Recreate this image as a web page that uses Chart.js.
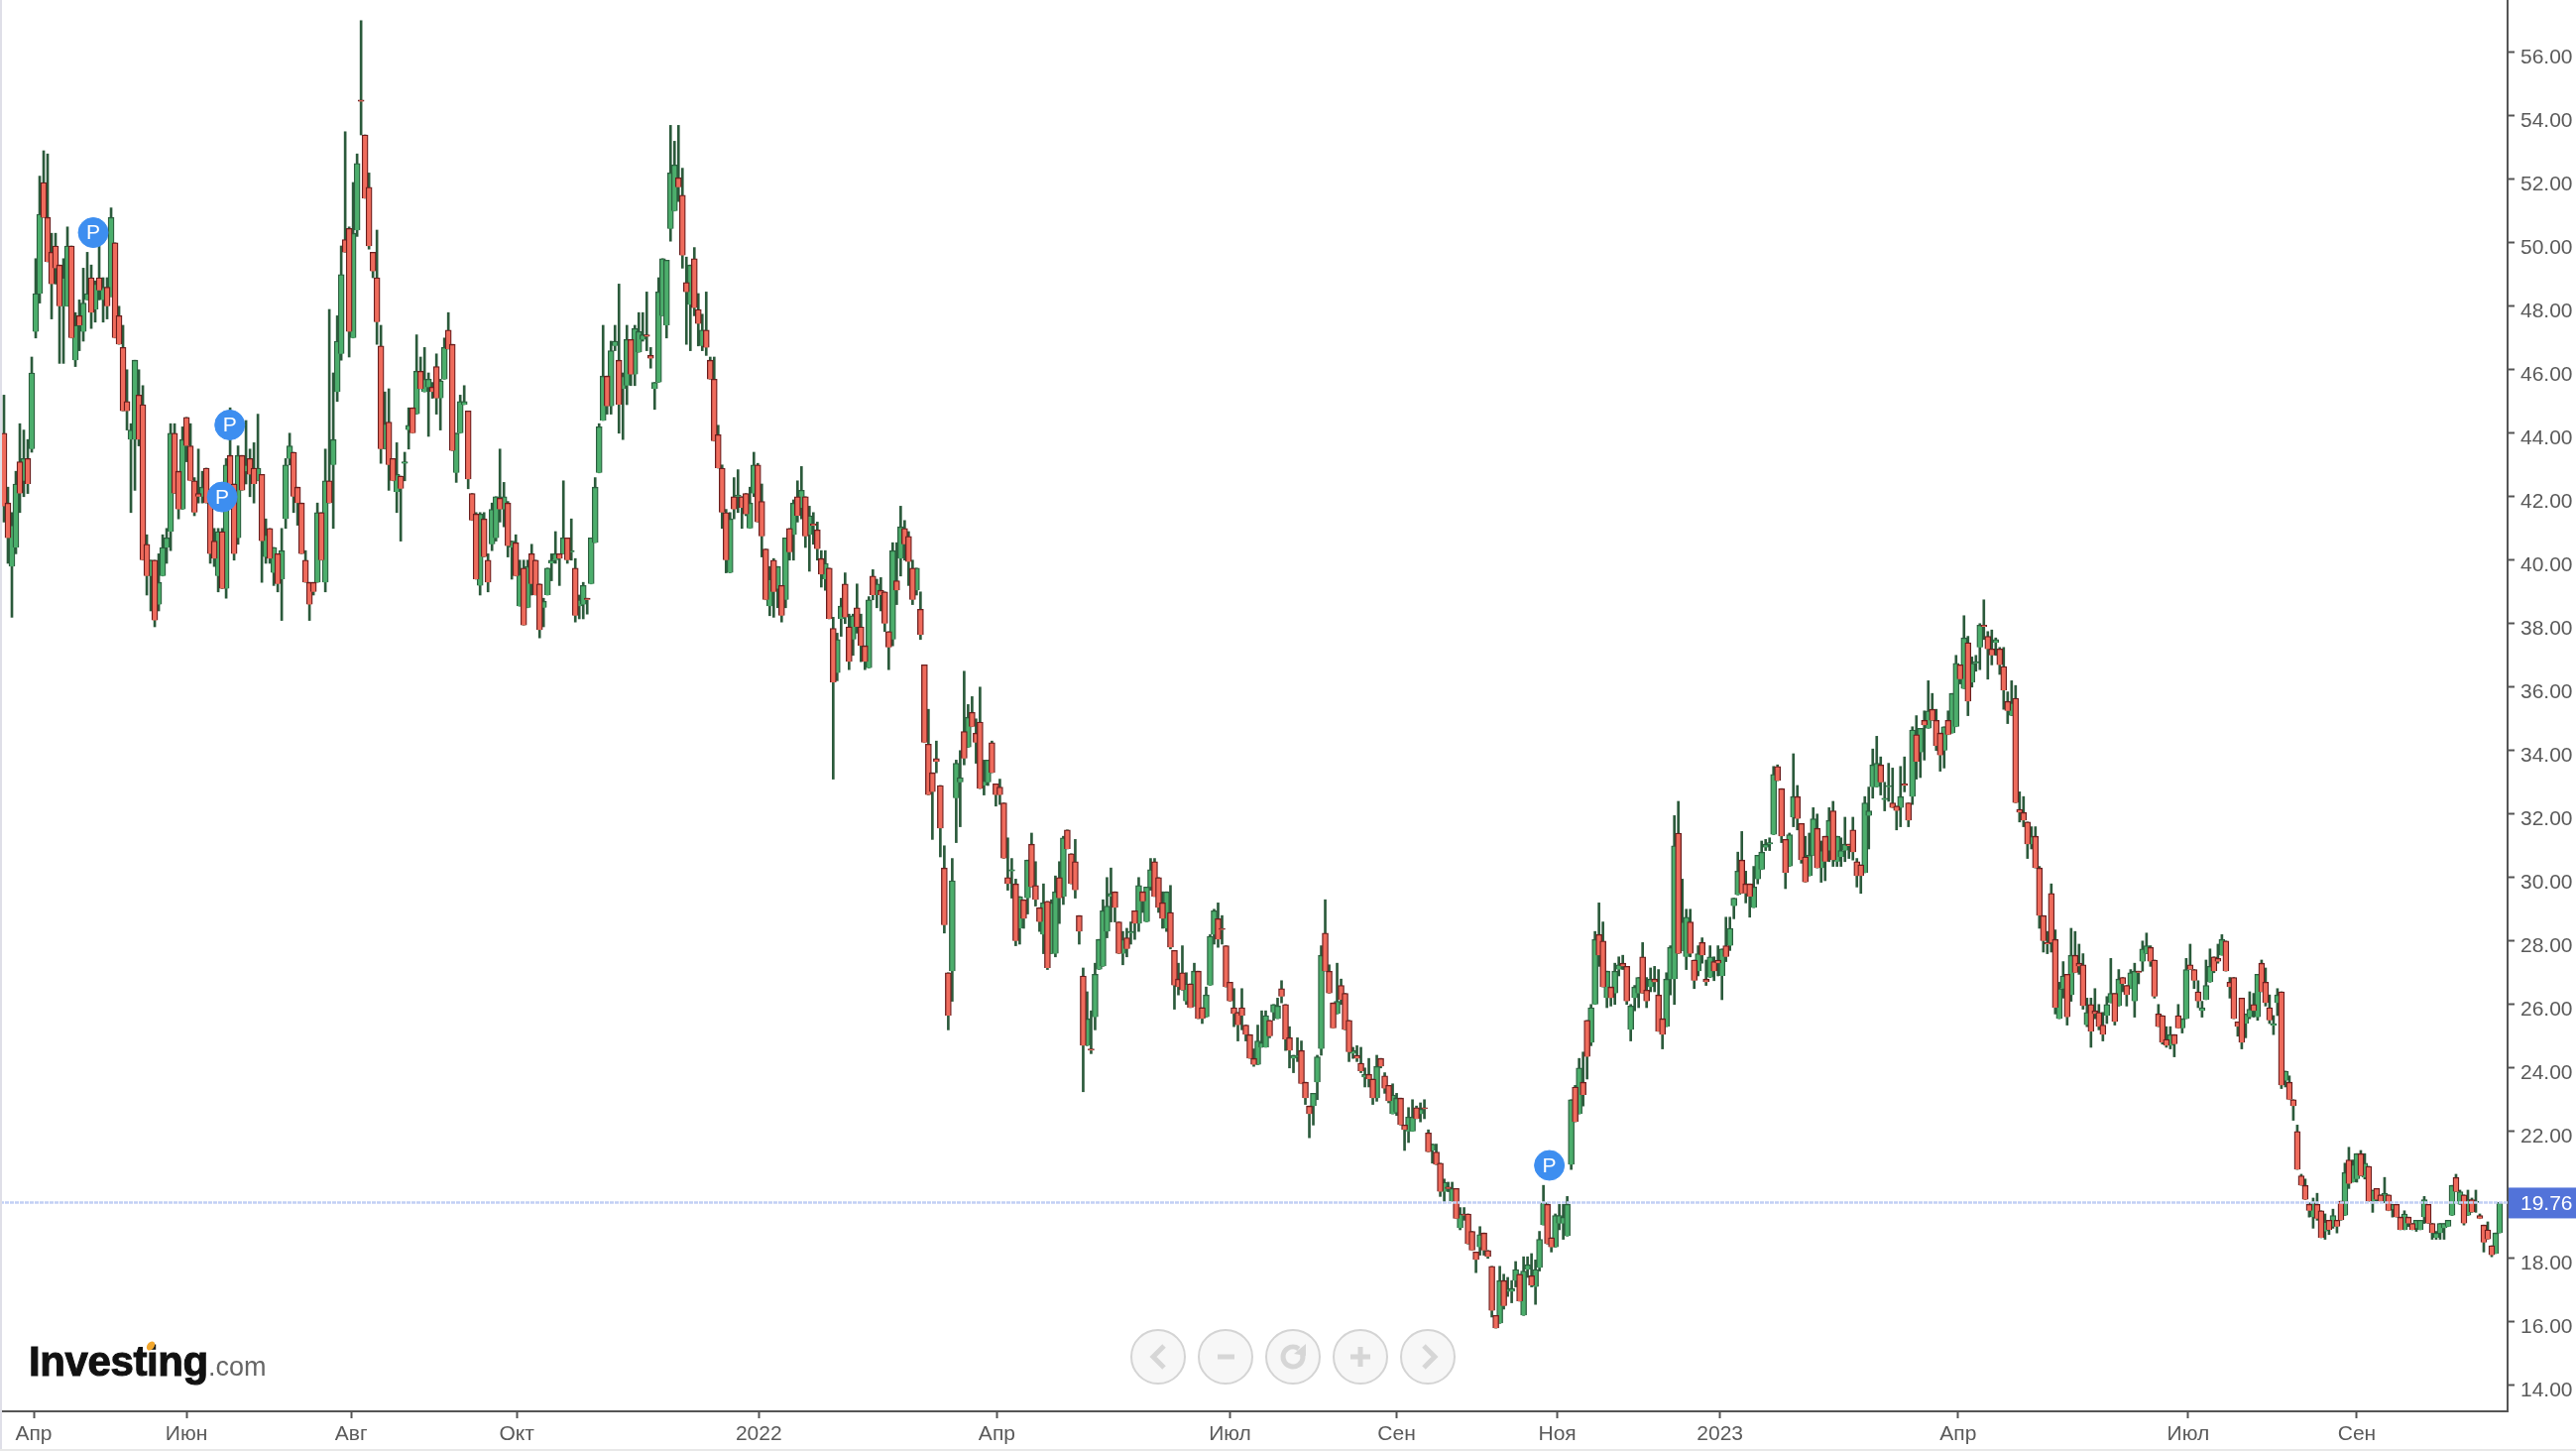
<!DOCTYPE html>
<html>
<head>
<meta charset="utf-8">
<title>Investing chart</title>
<script src="https://cdn.jsdelivr.net/npm/chart.js@4"></script>
<style>
    html, body { margin: 0; padding: 0; background: #fff; }
    #wrap { position: relative; width: 2598px; height: 1463px; }
</style>
</head>
<body>
<div id="wrap"><canvas id="chart"></canvas></div>
<script>
// =========================
// DATA
// =========================

const opens = [
44.0,41.8,39.8,40.4,43.1,42.5,43.2,43.5,47.2,48.4,
51.9,50.8,49.7,49.9,49.3,48.0,48.0,49.9,46.3,47.7,
47.2,48.2,48.9,47.9,48.9,48.2,48.6,48.3,50.0,47.7,
46.7,45.0,43.8,43.8,45.2,44.9,40.5,39.5,40.0,38.6,
39.5,40.4,40.9,44.0,42.8,41.6,44.5,43.6,42.5,42.1,
42.0,42.9,41.8,40.6,39.5,40.9,39.1,43.3,42.4,40.7,
43.3,42.8,43.2,42.9,42.5,42.7,40.1,41.0,39.6,40.2,
39.4,41.3,43.2,43.4,42.3,41.8,40.0,39.3,39.3,39.3,
41.5,39.3,42.5,43.0,45.3,46.5,50.1,50.45,47.0,50.4,
54.5,53.4,51.75,49.7,48.9,46.75,43.5,44.35,43.2,42.15,
42.65,43.05,44.1,44.8,44.6,45.95,45.3,45.45,45.45,46.1,
45.1,45.7,47.25,46.8,42.75,44.0,44.9,44.7,42.1,41.45,
39.2,41.3,40.0,40.5,40.7,41.95,41.6,41.8,40.4,40.55,
38.55,39.75,38.5,40.2,40.0,39.25,38.5,38.9,39.9,40.0,
40.2,40.2,40.7,40.25,39.75,38.55,38.6,38.8,39.25,40.55,
42.75,44.4,45.8,44.85,46.75,46.3,45.4,45.5,46.95,45.85,
46.55,46.95,47.1,46.45,45.4,45.6,47.7,47.4,50.45,51.0,
52.05,51.5,48.75,48.05,49.5,47.9,46.75,47.25,46.3,45.7,
43.95,42.9,41.5,39.6,42.0,42.0,42.0,42.1,41.0,42.1,
43.0,41.85,40.35,38.55,40.0,39.1,39.2,38.75,41.0,40.8,
42.0,41.65,42.0,40.8,41.15,40.95,40.05,39.4,39.75,37.85,
36.45,38.15,39.25,37.9,37.5,38.5,37.9,37.3,36.6,39.5,
38.9,39.05,39.0,37.75,37.5,39.35,40.05,41.0,40.75,39.75,
39.05,38.45,36.7,34.2,33.3,33.75,32.9,30.3,27.0,27.05,
32.5,33.0,34.6,34.1,35.2,34.55,34.9,32.9,33.0,34.25,
32.95,32.85,32.35,30.0,30.2,29.8,28.4,29.3,29.35,31.05,
29.75,29.05,28.2,29.25,27.6,27.6,30.0,29.4,31.5,30.75,
30.5,28.8,26.9,24.7,24.6,25.6,27.1,27.2,28.3,29.4,
29.55,28.6,27.6,28.1,28.25,28.95,28.55,29.55,28.6,29.7,
30.5,30.0,29.2,28.4,28.9,27.7,26.8,27.0,26.1,26.65,
25.95,27.05,25.9,25.6,26.6,28.2,28.7,28.4,27.85,26.7,
25.9,25.75,25.9,25.35,25.05,24.3,24.1,24.65,24.65,25.5,
25.75,25.55,26.5,26.0,24.95,24.3,24.35,24.55,23.55,22.8,
22.8,23.55,24.6,28.25,27.05,26.05,25.7,26.6,26.35,25.5,
24.45,24.4,24.15,23.7,23.8,23.65,23.05,24.3,23.75,23.45,
22.55,22.6,23.05,22.2,22.0,22.0,22.75,22.55,22.75,21.95,
21.4,21.35,21.0,20.1,20.25,19.8,20.2,18.95,19.4,19.4,
18.85,18.2,18.35,18.8,18.25,17.75,16.2,15.95,17.3,16.95,
16.95,17.3,17.5,16.2,17.65,17.45,17.1,17.7,19.05,19.7,
18.65,18.35,19.1,19.1,18.7,20.95,23.4,22.55,23.55,25.5,
24.8,26.0,28.2,28.0,26.2,26.55,26.35,27.1,27.3,27.2,
25.2,26.2,26.35,27.5,26.45,26.55,26.8,26.3,25.55,25.3,
26.8,26.8,31.4,27.7,27.5,28.6,27.4,27.05,27.95,26.8,
26.85,27.35,27.4,26.9,27.85,27.85,29.1,29.45,30.55,29.8,
29.8,29.05,29.95,30.25,30.95,31.05,31.35,33.5,32.8,31.2,
30.35,31.9,32.55,31.7,30.65,30.05,30.7,31.55,30.3,31.3,
30.85,32.1,30.5,30.65,30.85,31.05,31.5,30.5,30.4,30.15,
31.95,32.85,32.85,33.55,32.45,32.85,32.35,32.25,32.2,32.95,
32.35,32.55,34.5,33.95,34.95,34.7,35.3,34.95,34.55,34.0,
34.95,34.55,34.75,36.7,35.95,37.4,36.15,36.75,37.25,37.95,
37.6,37.2,37.4,37.2,36.65,35.55,35.1,35.65,32.15,32.05,
31.75,31.05,31.3,30.3,28.8,27.95,29.5,28.05,25.55,26.5,
26.95,26.3,27.55,27.3,27.25,25.35,26.0,25.8,25.75,25.35,
25.65,26.05,26.35,25.95,26.85,26.6,26.5,26.1,27.05,27.35,
27.6,27.8,27.4,25.7,25.65,24.9,24.7,25.05,25.65,25.25,
25.55,27.25,27.1,26.4,25.8,26.15,26.7,27.5,27.45,27.55,
28.0,26.7,26.85,25.45,26.2,25.4,25.6,26.0,25.6,27.3,
26.7,25.9,25.35,26.05,26.4,23.6,23.55,23.0,22.0,20.6,
20.3,19.7,19.3,19.7,19.5,18.85,19.2,19.0,19.2,19.8,
19.35,21.1,20.4,20.5,21.3,20.55,20.9,19.8,20.2,20.0,
19.8,20.0,19.55,19.7,19.3,18.9,19.3,19.1,18.95,18.9,
19.3,19.7,19.1,18.65,18.8,18.95,19.0,19.35,20.55,19.7,
20.0,19.35,19.85,19.75,19.35,19.05,18.9,18.4,18.15,18.8
];

const closes = [
41.7,40.7,41.1,42.4,42.1,43.2,42.4,45.9,48.4,50.9,
50.8,49.4,48.7,49.2,48.0,48.9,49.9,47.0,47.4,47.4,
48.1,48.4,47.8,48.7,48.5,48.6,48.0,50.8,47.0,46.8,
44.7,44.7,44.1,46.3,43.8,40.0,39.5,40.0,38.1,39.3,
40.4,40.7,44.0,42.1,41.6,43.8,43.6,42.5,41.5,42.0,
42.3,41.8,40.2,40.05,40.9,39.1,43.0,42.3,40.2,43.3,
42.2,43.0,42.7,42.4,42.9,40.6,40.8,40.05,40.4,39.25,
40.3,43.0,43.6,42.0,41.8,40.2,39.3,38.6,39.0,41.5,
40.0,42.5,41.8,43.8,46.9,49.0,49.7,47.2,50.3,52.5,
54.45,51.4,49.9,49.1,47.5,43.5,44.3,43.0,42.5,42.7,
42.25,43.1,44.25,44.0,45.95,45.4,45.7,45.7,45.3,45.1,
45.65,46.7,46.65,43.45,44.0,45.0,45.0,42.55,41.25,39.4,
41.45,40.1,39.3,41.6,42.0,41.6,42.0,40.45,40.6,39.5,
39.55,37.95,39.8,39.25,38.9,37.8,38.7,39.75,40.0,40.2,
40.05,40.7,40.0,40.3,38.25,38.75,39.2,38.75,40.7,42.3,
44.2,45.8,44.85,46.6,46.9,44.9,45.8,46.95,45.85,47.3,
47.2,47.1,47.05,46.35,45.6,48.45,49.5,49.45,52.2,52.45,
51.75,49.6,48.45,49.3,47.95,47.45,47.25,46.7,45.7,43.75,
42.9,41.5,40.0,41.3,41.6,42.05,41.65,41.45,41.8,43.0,
41.2,40.75,38.75,39.4,39.0,39.8,38.25,40.7,40.25,41.8,
41.4,42.2,40.75,41.4,41.1,40.35,39.55,39.9,38.15,36.15,
37.5,38.55,38.2,36.8,38.25,37.9,37.3,36.8,38.75,38.9,
39.25,38.9,38.0,37.25,40.3,39.05,41.05,40.5,39.95,38.75,
39.75,37.65,34.25,32.6,32.7,33.65,31.55,28.5,25.65,29.9,
33.6,33.15,33.75,35.05,34.75,34.25,32.8,33.05,33.7,33.3,
32.6,32.6,30.6,29.8,30.25,28.0,29.4,28.7,30.55,29.7,
29.3,28.6,29.2,27.15,29.2,29.55,29.35,31.25,30.9,29.8,
29.6,28.3,24.7,25.55,24.55,26.95,28.05,28.95,29.1,29.5,
29.05,27.6,28.05,27.75,28.3,28.55,29.75,29.25,29.7,30.25,
29.4,29.05,28.7,29.55,27.8,26.6,26.55,26.45,26.65,25.9,
27.05,25.55,25.55,26.3,28.15,28.95,28.05,28.35,26.55,26.1,
25.7,25.35,25.65,25.05,24.3,24.1,24.85,24.8,25.65,25.0,
26.0,25.95,26.25,24.9,24.55,24.4,24.4,23.5,23.05,22.55,
23.2,24.35,27.55,27.05,26.35,25.25,26.1,26.15,25.2,24.5,
24.55,24.3,23.9,23.8,23.65,23.05,24.05,24.05,23.35,22.95,
23.15,23.05,22.2,22.05,22.45,22.45,22.4,22.7,22.7,21.35,
21.6,20.95,20.1,20.4,20.2,20.2,19.25,19.4,19.35,18.45,
18.25,17.95,18.75,18.25,18.05,16.35,15.8,17.3,16.5,17.05,
17.05,17.65,16.65,17.6,17.8,17.15,17.65,18.6,19.75,18.45,
18.35,19.35,19.35,19.3,19.7,23.0,22.3,24.0,23.15,24.35,
25.9,28.05,27.55,26.55,27.05,26.2,27.05,27.25,27.2,26.1,
25.95,26.55,26.85,26.35,26.1,26.8,26.7,25.15,25.05,26.8,
27.8,31.0,27.6,28.6,28.75,27.6,26.75,27.6,27.55,26.7,
27.5,27.05,27.3,27.75,27.5,28.4,29.35,30.2,29.5,29.5,
29.4,29.7,30.7,30.8,31.05,31.1,33.25,33.05,31.3,30.15,
31.35,32.55,31.85,30.55,29.85,30.7,31.85,30.3,30.85,30.5,
31.8,30.55,31.3,30.85,31.05,31.0,30.8,30.05,30.05,32.35,
32.1,33.55,33.6,33.0,32.5,32.9,32.2,32.1,32.55,32.9,
31.8,34.65,33.65,34.7,34.8,35.25,34.95,34.15,33.85,34.75,
34.5,35.8,36.75,36.25,37.55,35.55,36.75,36.8,37.95,37.9,
37.2,37.0,37.5,36.7,35.9,35.25,35.5,32.35,32.05,31.8,
31.05,31.3,30.3,28.8,28.0,27.9,27.95,25.9,26.5,26.9,
25.6,27.55,27.0,27.2,25.95,25.75,25.15,25.7,25.3,25.05,
26.0,26.35,25.45,26.8,26.65,26.3,27.0,27.05,27.0,27.75,
27.85,27.35,26.25,25.3,24.8,24.7,25.05,24.75,25.25,25.55,
27.1,27.1,26.75,26.1,25.9,26.6,27.2,27.05,27.35,28.05,
27.05,26.55,25.55,25.3,24.8,25.7,25.85,25.8,26.95,26.4,
26.05,25.5,25.4,26.3,23.45,23.9,23.0,22.8,20.8,20.3,
19.85,19.5,19.75,19.25,18.65,19.15,18.9,19.35,19.0,19.2,
20.7,20.35,20.95,21.3,20.6,21.0,19.8,20.15,19.85,19.8,
20.05,19.5,19.7,19.3,18.9,19.4,19.1,18.9,19.2,19.2,
19.85,19.1,18.8,18.8,19.1,19.1,19.2,20.3,20.1,20.1,
19.1,19.85,19.45,19.8,19.25,18.5,18.6,18.1,18.8,19.76
];

const highs = [
45.2,42.3,41.5,42.8,44.3,44.1,43.8,46.4,49.5,52.1,
52.9,52.8,50.3,50.3,49.3,49.5,50.5,49.9,47.8,48.2,
49.2,49.7,49.3,48.8,49.9,48.9,48.9,51.1,50.0,48.0,
47.4,46.0,44.3,46.3,46.0,45.5,40.8,40.0,40.0,40.2,
40.8,41.0,44.3,44.3,42.8,44.2,44.5,44.3,42.6,43.5,
42.8,42.9,41.8,41.0,41.0,41.0,43.2,44.8,42.4,43.6,
43.3,44.4,43.5,43.7,44.6,42.7,41.3,41.0,40.4,40.2,
41.0,43.2,44.0,43.4,42.3,41.8,40.3,39.3,39.3,41.8,
41.5,43.5,47.9,45.9,47.7,49.9,53.5,50.5,51.9,52.8,
57.0,53.4,52.2,49.7,50.4,47.4,45.3,45.4,43.2,43.7,
42.65,43.4,44.8,44.8,47.1,46.4,46.7,45.9,45.6,46.5,
45.7,47.0,47.8,46.8,44.0,45.2,45.5,44.7,42.1,41.5,
41.5,41.5,40.2,41.8,42.0,43.5,42.45,41.85,40.6,40.8,
40.0,40.0,40.0,40.5,40.0,39.25,38.8,39.75,40.2,40.9,
40.2,42.5,40.7,41.3,40.05,38.9,39.3,38.8,40.7,42.6,
44.3,47.4,45.8,46.9,47.4,48.7,45.9,47.4,46.95,47.4,
47.8,47.8,48.45,46.7,45.6,48.9,49.5,49.45,53.7,53.2,
53.7,52.35,49.55,49.3,49.85,48.4,47.75,48.45,46.4,46.4,
44.25,43.0,41.6,41.5,42.6,42.85,42.0,42.1,42.3,43.4,
43.05,42.4,40.35,39.8,40.05,39.8,39.2,40.7,41.0,41.9,
42.5,42.95,42.0,41.7,41.5,41.2,40.3,40.3,39.75,38.2,
37.7,38.8,39.6,38.3,38.3,39.25,38.3,37.3,38.85,39.7,
39.4,39.45,39.0,37.75,40.55,40.55,41.7,41.25,40.9,40.0,
39.75,39.0,36.7,35.3,33.3,34.3,32.9,31.0,27.0,30.6,
33.7,34.0,36.5,35.45,35.7,35.0,36.0,33.7,33.7,34.3,
32.95,33.1,32.35,31.25,30.6,29.95,29.4,29.3,30.55,31.4,
30.5,29.05,29.8,29.25,29.3,30.05,30.5,31.3,31.5,30.75,
31.2,28.8,27.15,26.4,25.8,27.3,28.05,29.3,30.0,30.3,
29.55,28.6,28.3,28.4,28.6,28.95,30.0,29.55,29.7,30.6,
30.6,30.0,29.55,29.55,29.75,27.7,27.3,27.85,27.0,26.65,
27.3,27.05,25.9,26.55,28.2,29.0,29.2,28.8,27.85,26.7,
26.5,25.75,26.5,25.35,25.05,24.6,25.35,25.8,25.8,25.5,
26.0,26.2,26.75,26.0,25.3,24.4,24.95,24.85,23.55,22.8,
23.2,24.4,27.85,29.3,27.25,26.05,27.3,26.8,26.35,25.5,
24.65,24.7,24.65,24.0,24.3,23.65,24.4,24.3,23.85,23.45,
23.5,23.2,23.05,22.2,22.75,23.0,22.8,22.9,23.0,22.05,
21.6,21.6,21.0,20.5,20.4,20.4,20.2,19.6,19.6,19.4,
18.85,18.2,19.0,18.8,18.25,17.75,16.2,17.75,17.5,17.4,
17.3,17.9,17.5,18.05,18.05,18.15,17.95,18.85,20.3,19.75,
18.65,19.4,19.7,19.7,19.95,23.0,23.45,24.3,24.5,25.5,
26.0,28.3,29.2,28.6,27.05,26.55,27.3,27.5,27.55,27.2,
26.0,26.6,26.85,27.95,26.85,27.15,27.2,27.1,25.55,27.0,
27.85,31.95,32.4,29.95,29.0,29.0,27.4,27.85,28.1,27.4,
27.85,27.5,27.85,27.75,28.75,28.75,29.35,30.8,31.45,30.2,
29.8,30.35,30.7,31.15,31.2,31.25,33.5,33.55,32.8,31.2,
31.4,33.9,32.9,31.7,31.3,31.4,32.2,32.0,31.15,31.3,
32.2,32.4,31.3,31.25,31.9,31.05,31.9,30.6,30.4,32.55,
32.85,34.05,34.45,33.8,33.0,33.6,33.45,32.25,33.5,33.8,
32.35,34.75,35.1,34.7,35.25,36.2,35.8,35.3,34.55,34.75,
35.25,35.8,37.0,36.7,38.25,37.6,36.95,37.0,38.0,38.75,
37.75,37.8,37.55,37.25,37.25,35.85,36.2,36.05,32.7,32.55,
31.75,31.6,31.6,30.35,28.8,28.3,29.8,28.35,26.7,27.35,
26.95,28.4,28.3,27.9,27.6,26.2,26.2,26.5,26.0,25.75,
26.25,27.45,26.35,27.1,26.85,26.6,27.1,27.3,27.05,28.0,
28.25,27.85,27.4,26.0,25.65,25.3,25.3,25.05,26.0,25.55,
27.45,27.9,27.1,26.75,26.1,27.4,27.75,27.5,27.9,28.2,
28.0,26.85,26.85,25.45,26.2,25.7,26.4,26.35,26.95,27.4,
27.15,26.3,25.65,26.5,26.4,23.9,23.75,23.0,22.2,20.65,
20.5,19.75,19.9,20.05,19.5,19.4,19.2,19.55,19.2,19.8,
21.0,21.5,21.1,21.3,21.4,21.3,20.9,20.15,20.2,20.0,
20.55,20.0,19.7,19.7,19.3,19.5,19.3,19.1,19.2,19.2,
19.95,19.7,19.1,18.85,19.1,19.1,19.2,20.3,20.65,20.15,
20.0,20.15,19.9,20.15,19.4,19.05,19.15,18.4,18.8,19.76
];

const lows = [
41.2,39.9,38.2,40.2,41.5,42.0,42.1,43.4,47.0,48.1,
50.8,49.4,47.6,48.7,46.2,46.2,48.0,47.0,46.1,46.6,
46.9,48.2,47.3,47.5,48.2,47.5,47.6,48.3,47.0,46.8,
44.7,44.1,41.5,42.2,43.6,40.0,38.9,38.4,37.9,38.4,
39.5,39.9,40.3,42.1,41.3,41.6,43.1,42.5,41.4,41.8,
41.8,41.8,39.9,39.8,39.0,39.1,38.8,42.0,40.0,40.5,
42.2,42.4,42.0,41.8,42.5,39.3,39.9,39.9,39.2,39.0,
38.1,41.0,43.0,41.5,41.1,40.2,39.3,38.1,38.9,39.3,
40.0,39.0,41.8,41.0,45.0,46.3,49.7,46.4,47.0,50.2,
53.4,51.4,49.8,48.9,46.8,43.05,43.5,42.2,42.5,41.5,
40.6,42.5,43.5,44.0,44.6,45.4,45.3,43.9,45.1,44.6,
44.1,45.7,46.65,43.45,42.45,44.0,44.9,42.25,41.25,39.4,
38.9,40.1,39.0,40.3,40.6,41.2,41.05,40.1,39.4,39.5,
38.55,37.95,38.5,38.9,38.9,37.55,37.9,38.9,39.35,39.9,
39.2,40.2,39.9,40.0,38.05,38.15,38.15,38.3,39.25,40.55,
42.75,44.4,44.6,44.6,46.6,44.0,43.8,44.9,45.5,45.5,
46.55,46.9,46.6,46.05,44.75,45.6,47.7,47.0,50.05,51.0,
51.3,49.2,46.8,46.6,47.7,46.75,46.6,46.45,45.7,43.75,
42.9,41.0,39.6,39.6,41.3,41.5,41.0,41.4,41.0,42.0,
41.2,40.1,38.75,38.25,38.2,38.5,38.05,38.5,40.0,40.0,
41.2,41.3,40.4,39.65,40.5,40.0,39.15,39.05,38.15,33.1,
36.2,37.6,38.0,36.55,37.0,37.7,36.8,36.55,36.6,38.75,
38.5,38.4,37.75,36.55,37.3,38.6,39.5,40.0,39.2,38.6,
38.9,37.5,34.25,32.6,31.2,33.3,30.65,28.25,25.2,26.1,
31.1,31.6,33.55,34.1,34.75,33.6,32.8,32.6,32.9,33.3,
32.25,32.3,30.6,29.6,29.35,27.85,27.9,28.4,28.85,29.7,
29.1,28.3,27.6,27.1,27.6,27.5,28.55,29.15,30.9,29.8,
29.35,27.9,23.25,24.7,24.45,25.2,27.1,27.2,28.1,28.6,
28.6,27.6,27.25,27.5,27.9,28.05,28.3,28.9,28.6,29.6,
29.4,28.9,28.4,28.3,27.75,25.85,26.3,26.45,26.0,25.9,
25.95,25.55,25.4,25.6,26.6,27.9,27.8,27.9,26.55,26.1,
25.3,24.85,25.2,24.85,24.3,24.05,24.1,24.65,24.65,24.95,
25.5,25.55,26.05,24.55,24.0,23.85,24.2,23.5,22.85,21.8,
22.2,23.0,24.4,27.05,26.35,25.25,25.7,26.0,25.2,24.2,
24.3,24.2,23.85,23.4,23.4,22.85,22.95,24.0,23.2,22.9,
22.55,22.5,22.2,21.4,21.65,22.0,22.4,22.3,22.4,21.35,
21.0,20.95,19.95,19.75,20.1,19.8,19.25,18.9,19.2,18.45,
18.25,17.55,18.1,18.1,18.0,16.15,15.8,15.95,16.4,16.8,
16.6,17.1,16.65,16.2,17.4,17.1,16.55,17.6,19.05,18.45,
18.2,18.35,18.9,18.6,18.7,20.8,22.3,22.55,22.8,23.65,
24.7,26.0,27.2,26.55,25.9,25.95,26.0,26.9,27.1,26.0,
24.85,25.8,25.9,26.35,25.9,26.4,26.4,25.15,24.6,25.3,
26.3,26.0,27.6,27.7,27.1,27.5,26.5,26.9,27.3,26.6,
26.85,26.75,26.9,26.15,27.35,27.7,28.7,29.45,29.5,29.2,
28.75,29.05,29.8,30.25,30.85,30.85,31.35,33.05,31.1,29.65,
30.35,31.6,31.5,30.45,29.85,30.05,30.7,30.3,29.85,29.9,
30.5,30.35,30.35,30.35,30.5,30.6,30.55,29.7,29.5,30.15,
30.9,32.5,32.85,32.6,32.1,32.4,32.2,31.5,31.6,32.7,
31.6,32.3,33.1,33.15,33.7,34.7,34.95,34.0,33.35,33.45,
34.5,34.55,34.75,36.1,35.95,35.1,36.0,36.5,36.55,37.5,
36.25,36.7,37.0,36.4,35.3,34.85,35.1,32.35,31.75,31.6,
30.6,30.9,30.3,28.4,27.65,27.6,27.65,25.7,25.55,26.2,
25.35,26.1,27.0,26.95,25.85,25.3,24.65,25.55,25.2,24.85,
25.4,26.05,25.35,25.95,26.4,25.95,26.5,25.6,26.65,27.05,
27.6,27.2,26.2,25.3,24.75,24.65,24.6,24.35,25.25,25.1,
25.55,27.1,26.5,25.9,25.6,26.15,26.7,27.0,27.3,27.55,
27.05,26.2,25.55,25.0,24.6,24.95,25.55,25.6,25.5,26.4,
25.95,25.4,25.05,25.65,23.35,23.4,23.0,22.35,20.8,20.3,
19.85,19.3,18.95,19.2,18.65,18.6,18.75,18.95,18.8,19.2,
19.35,20.2,20.4,20.4,20.6,20.5,19.8,19.45,19.8,19.8,
19.75,19.5,19.3,19.3,18.9,18.9,19.0,18.9,18.85,18.9,
19.1,19.1,18.6,18.6,18.6,18.6,19.0,19.35,20.1,19.7,
19.05,19.35,19.45,19.45,19.25,18.2,18.6,18.05,18.15,18.8
];

const tickPositions = [7.5, 46, 87.5, 129.25, 190.25, 250.25, 309, 351, 391.5, 432.5, 492.5, 550.5, 593];
const tickNames = ["Апр", "Июн", "Авг", "Окт", "2022", "Апр", "Июл", "Сен", "Ноя", "2023", "Апр", "Июл", "Сен"];

const markerPositions = [22.5, 56.9, 55, 389.5];
const markerPrices = [50.32, 44.26, 41.99, 20.93];

const lastPrice = 19.76;

// =========================
// BUILD SERIES
// =========================

const isGreen = (i) => closes[i] >= opens[i];

const wickPoints = [];
const greenPoints = [];
const redPoints = [];

opens.forEach((open, i) => {

    wickPoints.push({ x: i, y: [lows[i], highs[i]] });

    if (isGreen(i)) {
        greenPoints.push({ x: i, y: [open, closes[i]] });
    } else {
        redPoints.push({ x: i, y: [open, closes[i]] });
    }

});

const markerPoints = markerPositions.map((x, i) => ({ x: x, y: markerPrices[i] }));

// =========================
// OVERLAYS: tag, P, logo, buttons
// =========================

const FONT = '"Liberation Sans", Arial, sans-serif';

function drawButton(ctx, x, y) {
    ctx.beginPath();
    ctx.arc(x, y, 27, 0, Math.PI * 2);
    ctx.fillStyle = "#f7f7f7";
    ctx.fill();
    ctx.lineWidth = 2;
    ctx.strokeStyle = "#d4d4d4";
    ctx.stroke();
    ctx.lineWidth = 5;
    ctx.strokeStyle = "#d6d6d6";
}

const overlayPlugin = {
    id: "overlay",
    afterDraw(chart) {

        const ctx = chart.ctx;
        const yScale = chart.scales.y;

        ctx.save();

        // chart frame bits
        ctx.fillStyle = "#dfdfe8";
        ctx.fillRect(0, 0, 2, 1463);
        ctx.fillStyle = "#e8e8e8";
        ctx.fillRect(0, 1461, 2598, 2);

        // last price tag
        const tagY = yScale.getPixelForValue(lastPrice);
        ctx.fillStyle = "#5273d9";
        ctx.fillRect(2530, tagY - 15, 68, 31);
        ctx.fillStyle = "#fff";
        ctx.font = "21px " + FONT;
        ctx.textAlign = "left";
        ctx.textBaseline = "middle";
        ctx.fillText(lastPrice.toFixed(2), 2542, tagY + 2);

        // P letters on the event circles
        const meta = chart.getDatasetMeta(0);
        ctx.font = "21px " + FONT;
        ctx.textAlign = "center";
        meta.data.forEach(pt => {
            ctx.fillText("P", pt.x, pt.y + 1);
        });

        // logo
        ctx.textAlign = "left";
        ctx.textBaseline = "alphabetic";
        ctx.fillStyle = "#111";
        ctx.strokeStyle = "#111";
        ctx.lineWidth = 1;
        ctx.font = "bold 42px " + FONT;
        ctx.letterSpacing = "-0.4px";
        ctx.fillText("Investing", 29, 1387);
        ctx.strokeText("Investing", 29, 1387);
        ctx.fillStyle = "#666";
        ctx.font = "27px " + FONT;
        ctx.letterSpacing = "0px";
        ctx.fillText(".com", 210, 1387);
        ctx.fillStyle = "#f2a72e";
        ctx.beginPath();
        ctx.ellipse(152, 1357, 5, 3.5, -0.9, 0, Math.PI * 2);
        ctx.fill();

        // nav buttons
        const by = 1368;
        ctx.lineCap = "butt";

        drawButton(ctx, 1168, by);
        ctx.beginPath();
        ctx.moveTo(1174, by - 11);
        ctx.lineTo(1163, by);
        ctx.lineTo(1174, by + 11);
        ctx.stroke();

        drawButton(ctx, 1236, by);
        ctx.beginPath();
        ctx.moveTo(1228, by);
        ctx.lineTo(1245, by);
        ctx.stroke();

        drawButton(ctx, 1304, by);
        ctx.beginPath();
        ctx.arc(1304, by, 10, -0.6, Math.PI * 1.7);
        ctx.stroke();
        ctx.fillStyle = "#d6d6d6";
        ctx.beginPath();
        ctx.moveTo(1317, by - 13);
        ctx.lineTo(1317, by - 1);
        ctx.lineTo(1305, by - 3);
        ctx.fill();

        drawButton(ctx, 1372, by);
        ctx.beginPath();
        ctx.moveTo(1362, by);
        ctx.lineTo(1382, by);
        ctx.moveTo(1372, by - 10);
        ctx.lineTo(1372, by + 10);
        ctx.stroke();

        drawButton(ctx, 1440, by);
        ctx.beginPath();
        ctx.moveTo(1436, by - 11);
        ctx.lineTo(1447, by);
        ctx.lineTo(1436, by + 11);
        ctx.stroke();

        ctx.restore();

    }
};

// =========================
// CHART
// =========================

new Chart(document.getElementById("chart"), {
    type: "bar",
    plugins: [overlayPlugin],
    data: {
        datasets: [
            {
                type: "scatter",
                label: "Events",
                data: markerPoints,
                backgroundColor: "#3d8ef0",
                borderColor: "#3d8ef0",
                pointRadius: 15,
                order: 0
            },
            {
                type: "line",
                label: "Last price",
                data: [{ x: -1, y: lastPrice }, { x: 631, y: lastPrice }],
                borderColor: "#c2d0f5",
                borderWidth: 2.5,
                borderDash: [4, 1],
                pointRadius: 0,
                order: 1
            },
            {
                label: "Down",
                data: redPoints,
                backgroundColor: "#ef6b5c",
                borderColor: "#6b1d1d",
                borderWidth: 1.3,
                barThickness: 6,
                grouped: false,
                order: 2
            },
            {
                label: "Up",
                data: greenPoints,
                backgroundColor: "#4cae6c",
                borderColor: "#2b5f3e",
                borderWidth: 1.3,
                barThickness: 6,
                grouped: false,
                order: 3
            },
            {
                label: "Range",
                data: wickPoints,
                backgroundColor: "#2b5a3b",
                barThickness: 2,
                grouped: false,
                order: 4
            }
        ]
    },
    options: {
        responsive: true,
        maintainAspectRatio: false,
        animation: false,
        layout: { padding: 0, autoPadding: false },
        plugins: {
            legend: { display: false },
            tooltip: { enabled: false }
        },
        scales: {
            x: {
                type: "linear",
                position: "bottom",
                min: -1,
                max: 631,
                offset: false,
                border: { color: "#555", width: 2 },
                grid: {
                    offset: false,
                    drawOnChartArea: false,
                    tickLength: 7,
                    tickColor: "#555",
                    tickWidth: 2
                },
                afterBuildTicks(axis) {
                    axis.ticks = tickPositions.map(v => ({ value: v }));
                },
                afterFit(axis) {
                    axis.height = 40;
                    axis.paddingLeft = 0;
                    axis.paddingRight = 0;
                },
                ticks: {
                    autoSkip: false,
                    maxRotation: 0,
                    padding: 4,
                    color: "#5a5a5a",
                    font: { family: FONT, size: 21 },
                    callback(value) {
                        return tickNames[tickPositions.indexOf(value)];
                    }
                }
            },
            y: {
                position: "right",
                min: 13.18,
                max: 57.65,
                border: { color: "#555", width: 2 },
                grid: {
                    drawOnChartArea: false,
                    tickLength: 7,
                    tickColor: "#555",
                    tickWidth: 2
                },
                afterFit(axis) {
                    axis.width = 69;
                    axis.paddingTop = 0;
                    axis.paddingBottom = 0;
                },
                afterUpdate(axis) {
                    // labels sit a little below their tick in the original
                    const compute = axis._computeLabelItems;
                    axis._computeLabelItems = function (area) {
                        const items = compute.call(this, area);
                        items.forEach(item => { item.textOffset += 2.5; });
                        return items;
                    };
                },
                ticks: {
                    stepSize: 2,
                    includeBounds: false,
                    padding: 6,
                    color: "#5a5a5a",
                    font: { family: FONT, size: 21 },
                    callback(value) {
                        return value === 20 ? "" : value.toFixed(2);
                    }
                }
            }
        }
    }
});
</script>
</body>
</html>
